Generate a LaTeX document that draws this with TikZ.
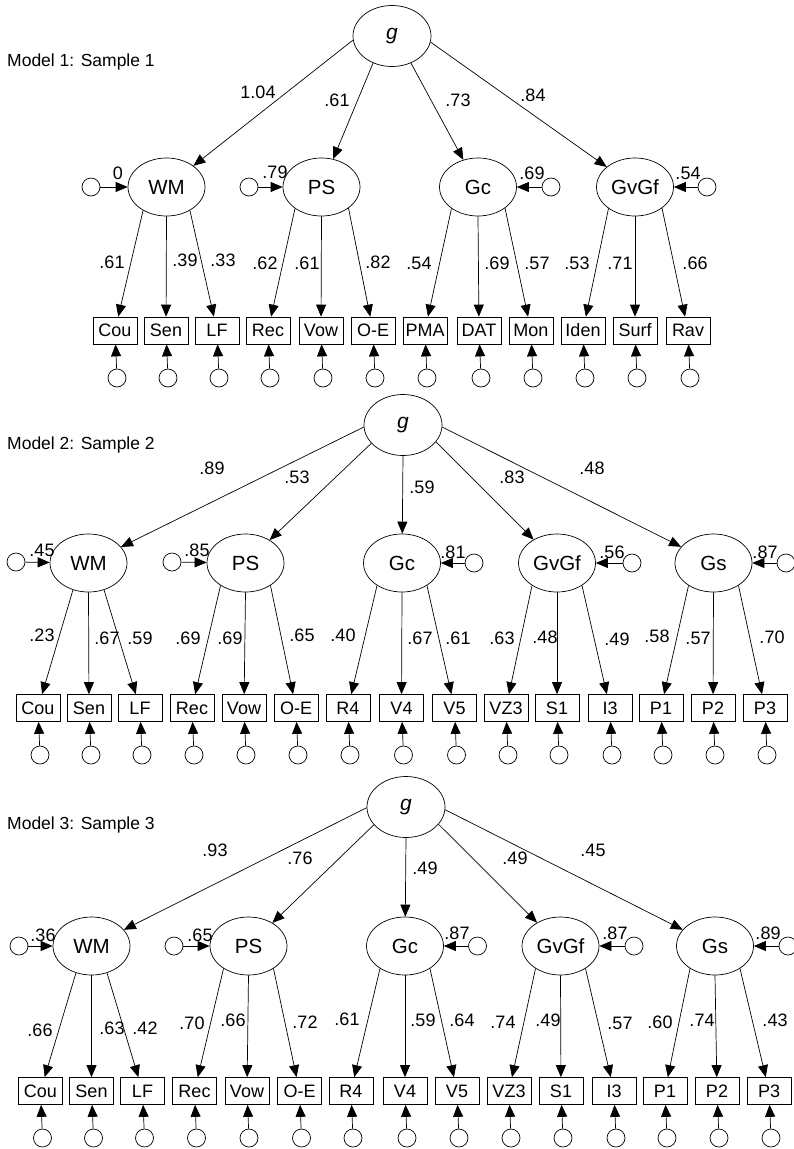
\documentclass[tikz,border=0pt]{standalone}
\usepackage{fontspec}
\setmainfont{Liberation Sans}
\usetikzlibrary{shapes.geometric,arrows.meta}
\begin{document}
\begin{tikzpicture}[x=1pt,y=-1pt,
  lat/.style={ellipse,draw,line width=0.7pt,minimum width=77pt,minimum height=58pt,inner sep=0pt,font=\fontsize{20.5}{24}\selectfont},
  gen/.style={ellipse,draw,line width=0.7pt,minimum width=78pt,minimum height=61pt,inner sep=0pt,font=\fontsize{21}{24}\selectfont\itshape},
  obs/.style={rectangle,draw,line width=0.7pt,minimum width=44pt,minimum height=27pt,inner sep=0pt,font=\fontsize{18}{20}\selectfont},
  err/.style={circle,draw,line width=0.7pt,minimum size=18pt,inner sep=0pt},
  lab/.style={inner sep=0pt,font=\fontsize{18}{20}\selectfont},
  ttl/.style={inner sep=0pt,anchor=west,font=\fontsize{17.5}{20}\selectfont},
  arr/.style={-{Triangle[length=12pt,width=10pt]},line width=0.7pt}]
\fill[white] (0,0) rectangle (793,1149);
\useasboundingbox (0,0) rectangle (793,1149);

% ================= Model 1 =================
\node[ttl] (t1) at (7,62) {Model 1: Sample 1};
\node[gen] (g1) at (392,36) {g};
\node[lat] (WM1) at (166.5,187) {WM};
\node[lat] (PS1) at (321.5,187) {PS};
\node[lat] (Gc1) at (478,187) {Gc};
\node[lat] (GvGf1) at (635,187) {GvGf};
\draw[arr] (g1.186) -- (WM1);
\draw[arr] (g1.235) -- (PS1);
\draw[arr] (g1.305) -- (Gc1);
\draw[arr] (g1.351) -- (GvGf1);
\node[lab] at (258,92) {1.04};
\node[lab] at (337,100) {.61};
\node[lab] at (458,100) {.73};
\node[lab] at (533,95) {.84};
\node[err] (rWM1) at (91,187) {};
\node[err] (rPS1) at (249,187) {};
\node[err] (rGc1) at (551,187) {};
\node[err] (rGvGf1) at (707,187) {};
\draw[arr] (rWM1) -- (WM1);
\draw[arr] (rPS1) -- (PS1);
\draw[arr] (rGc1) -- (Gc1);
\draw[arr] (rGvGf1) -- (GvGf1);
\node[lab] at (118,173) {0};
\node[lab] at (275,172) {.79};
\node[lab] at (532,173) {.69};
\node[lab] at (688,173) {.54};
\foreach \id/\txt/\x/\src/\v/\lx/\ly in {
  a/Cou/115/WM1.225/.61/112/262, b/Sen/166/WM1.270/.39/185/260, c/LF/217/WM1.315/.33/223/260,
  d/Rec/268/PS1.219/.62/265/263, e/Vow/321/PS1.270/.61/307/263, f/O-E/373/PS1.322/.82/378/262,
  g/PMA/425/Gc1.219/.54/419/263, h/DAT/479/Gc1.270/.69/497/263, i/Mon/531/Gc1.322/.57/537/263,
  j/Iden/583/GvGf1.219/.53/577/263, k/Surf/635/GvGf1.270/.71/620/263, l/Rav/688/GvGf1.322/.66/695/263}{
  \node[obs] (o1\id) at (\x,330.5) {\txt};
  \node[err] (e1\id) at (\x+2,378) {};
  \draw[arr] (\src) -- (o1\id);
  \draw[arr] (e1\id) -- (o1\id);
  \node[lab] at (\lx,\ly) {\v};
}

% ================= Model 2 =================
\node[ttl] (t2) at (7,445) {Model 2: Sample 2};
\node[gen] (g2) at (403,425) {g};
\node[lat] (WM2) at (88.5,563) {WM};
\node[lat] (PS2) at (245.5,563) {PS};
\node[lat] (Gc2) at (402,563) {Gc};
\node[lat] (GvGf2) at (557,563) {GvGf};
\node[lat] (Gs2) at (713.5,563) {Gs};
\draw[arr] (g2.183) -- (WM2);
\draw[arr] (g2.210) -- (PS2);
\draw[arr] (g2.270) -- (Gc2);
\draw[arr] (g2.333) -- (GvGf2);
\draw[arr] (g2.357) -- (Gs2);
\node[lab] at (212,468) {.89};
\node[lab] at (297,477) {.53};
\node[lab] at (422,487) {.59};
\node[lab] at (512,477) {.83};
\node[lab] at (592,468) {.48};
\node[err] (rWM2) at (16,562) {};
\node[err] (rPS2) at (172,562) {};
\node[err] (rGc2) at (474,563) {};
\node[err] (rGvGf2) at (632,563) {};
\node[err] (rGs2) at (786,563) {};
\draw[arr] (rWM2) -- (WM2);
\draw[arr] (rPS2) -- (PS2);
\draw[arr] (rGc2) -- (Gc2);
\draw[arr] (rGvGf2) -- (GvGf2);
\draw[arr] (rGs2) -- (Gs2);
\node[lab] at (42,550) {.45};
\node[lab] at (197,550) {.85};
\node[lab] at (453,552) {.81};
\node[lab] at (612,552) {.56};
\node[lab] at (765,552) {.87};
\foreach \id/\txt/\x/\src/\v/\lx/\ly in {
  a/Cou/38/WM2.240/.23/42/635, b/Sen/89/WM2.270/.67/107/638, c/LF/140/WM2.300/.59/140/638,
  d/Rec/192/PS2.222/.69/188/638, e/Vow/244/PS2.270/.69/230/638, f/O-E/296/PS2.318/.65/302/635,
  g/R4/348/Gc2.222/.40/343/635, h/V4/401.5/Gc2.270/.67/420/638, i/V5/454.5/Gc2.318/.61/458/638,
  j/VZ3/506/GvGf2.222/.63/502/638, k/S1/557/GvGf2.270/.48/545/637, l/I3/610/GvGf2.318/.49/617/639,
  m/P1/661/Gs2.222/.58/657/636, n/P2/713/Gs2.270/.57/698/638, o/P3/765/Gs2.318/.70/772/637}{
  \node[obs] (o2\id) at (\x,708) {\txt};
  \node[err] (e2\id) at (\x+2,755) {};
  \draw[arr] (\src) -- (o2\id);
  \draw[arr] (e2\id) -- (o2\id);
  \node[lab] at (\lx,\ly) {\v};
}

% ================= Model 3 =================
\node[ttl] (t3) at (7,825) {Model 3: Sample 3};
\node[gen] (g3) at (406,807) {g};
\node[lat] (WM3) at (91.5,946) {WM};
\node[lat] (PS3) at (248.5,946) {PS};
\node[lat] (Gc3) at (405,946) {Gc};
\node[lat] (GvGf3) at (560.5,946) {GvGf};
\node[lat] (Gs3) at (715,946) {Gs};
\draw[arr] (g3.181) -- (WM3);
\draw[arr] (g3.209) -- (PS3);
\draw[arr] (g3.270) -- (Gc3);
\draw[arr] (g3.332) -- (GvGf3);
\draw[arr] (g3.356) -- (Gs3);
\node[lab] at (215,850) {.93};
\node[lab] at (300,858) {.76};
\node[lab] at (425,868) {.49};
\node[lab] at (515,858) {.49};
\node[lab] at (593,850) {.45};
\node[err] (rWM3) at (19,946) {};
\node[err] (rPS3) at (174,946) {};
\node[err] (rGc3) at (477.5,946) {};
\node[err] (rGvGf3) at (634,946) {};
\node[err] (rGs3) at (788,946) {};
\draw[arr] (rWM3) -- (WM3);
\draw[arr] (rPS3) -- (PS3);
\draw[arr] (rGc3) -- (Gc3);
\draw[arr] (rGvGf3) -- (GvGf3);
\draw[arr] (rGs3) -- (Gs3);
\node[lab] at (43,935) {.36};
\node[lab] at (200,935) {.65};
\node[lab] at (457,933) {.87};
\node[lab] at (615,933) {.87};
\node[lab] at (768,933) {.89};
\foreach \id/\txt/\x/\src/\v/\lx/\ly in {
  a/Cou/40.5/WM3.240/.66/40/1030, b/Sen/91.5/WM3.270/.63/112/1028, c/LF/142.5/WM3.300/.42/145/1028,
  d/Rec/194.5/PS3.222/.70/192/1023, e/Vow/247/PS3.270/.66/233/1020, f/O-E/299.5/PS3.318/.72/305/1022,
  g/R4/351/Gc3.222/.61/347/1019, h/V4/405/Gc3.270/.59/423/1020, i/V5/457/Gc3.318/.64/462/1020,
  j/VZ3/509/GvGf3.222/.74/503/1022, k/S1/561/GvGf3.270/.49/548/1020, l/I3/614/GvGf3.318/.57/620/1023,
  m/P1/665/Gs3.222/.60/660/1022, n/P2/717/Gs3.270/.74/702/1020, o/P3/769/Gs3.318/.43/775/1020}{
  \node[obs] (o3\id) at (\x,1091) {\txt};
  \node[err] (e3\id) at (\x+2,1138) {};
  \draw[arr] (\src) -- (o3\id);
  \draw[arr] (e3\id) -- (o3\id);
  \node[lab] at (\lx,\ly) {\v};
}
\end{tikzpicture}
\end{document}
